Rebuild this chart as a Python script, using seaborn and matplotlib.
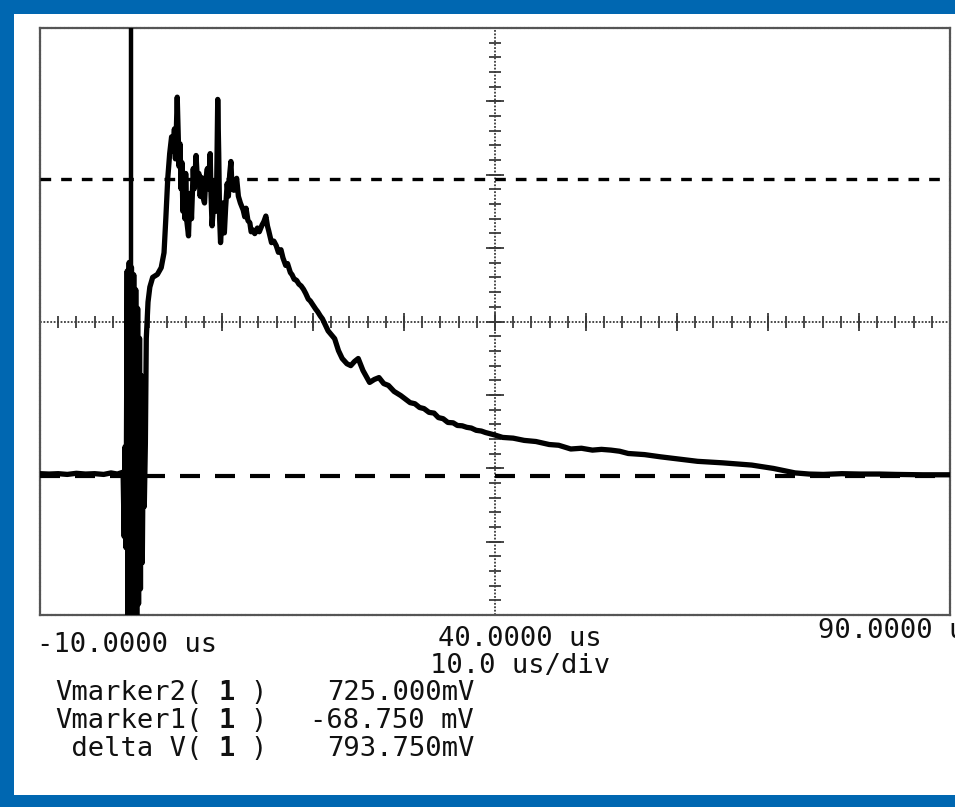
import numpy as np
import pandas as pd
import matplotlib
matplotlib.use("Agg")
import matplotlib.pyplot as plt
import seaborn as sns
from matplotlib.patches import Rectangle

# trace (time in us, voltage in mV)
time_us = [-10.0, -9.0, -8.0, -7.0, -6.0, -5.0, -4.0, -3.0, -2.2, -1.5, -0.87,
           -0.75, -0.65, -0.55, -0.42, -0.32, -0.20, -0.08, 0.05, 0.18, 0.30,
           0.42, 0.52, 0.63, 0.73, 0.83, 0.94, 1.04, 1.14, 1.24, 1.36, 1.46,
           1.58, 1.68, 1.87, 2.07, 2.38, 2.90, 3.32, 3.63, 3.83, 4.04, 4.25,
           4.46, 4.60, 4.77, 4.88, 4.97, 5.08, 5.18, 5.28, 5.39, 5.50, 5.60,
           5.70, 5.80, 5.92, 6.01, 6.15, 6.32, 6.42, 6.53, 6.65, 6.84, 6.95,
           7.15, 7.30, 7.46, 7.60, 7.75, 7.88, 8.08, 8.20, 8.39, 8.50, 8.70,
           8.80, 8.91, 9.05, 9.22, 9.38, 9.53, 9.64, 9.74, 9.84, 9.95, 10.05,
           10.15, 10.26, 10.40, 10.57, 10.70, 10.85, 10.98, 11.10, 11.30, 11.45,
           11.61, 11.80, 12.02, 12.33, 12.50, 12.64, 12.85, 13.06, 13.20, 13.37,
           13.60, 13.89, 14.10, 14.40, 14.60, 14.82, 15.00, 15.13, 15.30, 15.44,
           15.70, 15.96, 16.20, 16.48, 16.70, 17.00, 17.20, 17.51, 17.70, 17.93,
           18.20, 18.45, 18.70, 18.96, 19.20, 19.48, 19.70, 20.00, 20.30, 20.52,
           20.80, 21.04, 21.66, 22.38, 22.80, 23.21, 23.73, 24.15, 24.56, 24.97,
           25.49, 26.22, 26.74, 27.25, 27.77, 28.29, 28.91, 29.64, 30.67, 31.20,
           31.71, 32.20, 32.75, 33.30, 33.78, 34.30, 34.82, 35.40, 35.86, 36.40,
           36.89, 37.40, 37.93, 38.50, 38.96, 39.90, 40.83, 42.00, 43.21, 44.50,
           45.95, 47.00, 48.33, 49.50, 50.71, 51.70, 52.74, 53.70, 54.64, 56.43,
           58.21, 60.24, 62.26, 65.00, 68.21, 70.60, 72.98, 74.52, 76.07, 78.10,
           80.12, 82.26, 84.05, 87.02, 90.00]
volt_mv = [-62, -63, -62, -64, -61, -63, -62, -64, -60, -63, -58,
           -230, 10, -260, 480, -520, 503, -520, 490, -520, 470,
           -480, 430, -440, 380, -410, 300, -370, 200, -300, 60, -150,
           20, 300, 397, 437, 463, 471, 489, 529, 622, 728, 794,
           839, 800, 860, 780, 847, 945, 847, 760, 820, 700, 770,
           640, 720, 620, 741, 610, 574, 650, 688, 620, 754, 700,
           789, 720, 741, 680, 730, 680, 662, 720, 754, 700, 794,
           680, 601, 650, 714, 640, 939, 794, 620, 556, 600, 662,
           590, 582, 650, 714, 680, 740, 773, 700, 696, 710,
           728, 680, 662, 643, 625, 648, 615, 609, 585, 590,
           580, 595, 585, 603, 612, 627, 600, 588, 570, 556,
           560, 548, 530, 537, 515, 495, 500, 476, 470, 458,
           455, 445, 440, 431, 420, 405, 400, 389, 378, 371,
           360, 352, 320, 299, 267, 246, 232, 227, 238, 246,
           214, 182, 190, 195, 179, 174, 158, 147, 128, 125,
           115, 112, 102, 100, 88, 85, 75, 74, 67, 66,
           62, 60, 54, 52, 48, 42, 35, 33, 27, 24,
           16, 14, 4, 6, 1, 3, 1, -2, -8, -11,
           -17, -23, -29, -33, -39, -48, -60, -63, -64, -62,
           -63, -63, -64, -65, -65]

vmarker2_mv = 725.0
vmarker1_mv = -68.75
trigger_us = 0.0
x_left_us, x_center_us, x_right_us = -10.0, 40.0, 90.0
us_per_div = 10.0
y_lim_mv = (-440.0, 1130.0)

sns.set_style("white")
plt.rcParams["font.family"] = ["DejaVu Sans Mono", "DejaVu Sans"]

W, H = 955, 807
fig = plt.figure(figsize=(W / 100, H / 100), dpi=100)
fig.patch.set_facecolor("#0067B1")
fig.add_artist(Rectangle((14 / W, 12 / H), (W - 14) / W, (H - 26) / H,
                         transform=fig.transFigure, facecolor="white",
                         edgecolor="none", zorder=-1))

ax = fig.add_axes([40 / W, (H - 615) / H, 910 / W, 587 / H])
ax.set_facecolor("white")

df = pd.DataFrame({"t": time_us, "v": volt_mv})
sns.lineplot(data=df, x="t", y="v", ax=ax, color="black", lw=3.8,
             sort=False, estimator=None, zorder=5)

# trigger and voltage markers
ax.axvline(trigger_us, color="black", lw=3.2, zorder=4)
ax.axhline(vmarker2_mv, color="black", lw=2.4, ls=(0, (3.2, 3.0)), zorder=3)
ax.axhline(vmarker1_mv, color="black", lw=3.0, ls=(0, (4.8, 3.6)), zorder=3)

# dotted crosshair with division ticks
yc = sum(y_lim_mv) / 2
v_div = (y_lim_mv[1] - y_lim_mv[0]) / 8
grid_kw = dict(color="#3a3a3a", lw=1.3, ls=(0, (1, 0.9)), zorder=2)
ax.axhline(yc, **grid_kw)
ax.axvline(x_center_us, **grid_kw)

minor_x = np.arange(x_left_us, x_right_us + 0.01, us_per_div / 5)
major_x = np.arange(x_left_us, x_right_us + 0.01, us_per_div)
ax.plot(minor_x, np.full(len(minor_x), yc), ls="none", marker="|", ms=8,
        mew=1.3, color="#3a3a3a", zorder=2)
ax.plot(major_x, np.full(len(major_x), yc), ls="none", marker="|", ms=13,
        mew=1.3, color="#3a3a3a", zorder=2)
minor_y = yc + np.arange(-20, 21) * v_div / 5
major_y = yc + np.arange(-4, 5) * v_div
ax.plot(np.full(len(minor_y), x_center_us), minor_y, ls="none", marker="_",
        ms=8, mew=1.3, color="#3a3a3a", zorder=2)
ax.plot(np.full(len(major_y), x_center_us), major_y, ls="none", marker="_",
        ms=13, mew=1.3, color="#3a3a3a", zorder=2)

ax.set_xlim(x_left_us, x_right_us)
ax.set_ylim(*y_lim_mv)
ax.set_xticks([])
ax.set_yticks([])
ax.set_xlabel("")
ax.set_ylabel("")
for s in ax.spines.values():
    s.set_visible(True)
    s.set_linestyle((0, (1, 0.9)))
    s.set_linewidth(1.6)
    s.set_color("#555555")


def px(x, y):
    return x / W, 1 - y / H


fs = 19.5
cw = 0.602 * fs * 100 / 72
txt_kw = dict(fontsize=fs, color="#111111", va="baseline")
fig.text(*px(37, 652), f"{x_left_us:.4f} us", ha="left", **txt_kw)
fig.text(*px(520, 646), f"{x_center_us:.4f} us", ha="center", **txt_kw)
fig.text(*px(818, 638), f"{x_right_us:.4f} us", ha="left", **txt_kw)
fig.text(*px(520, 673), f"{us_per_div:.1f} us/div", ha="center", **txt_kw)

readout_names = ["Vmarker2(", "Vmarker1(", " delta V("]
readout_values = [f"{vmarker2_mv:.3f}mV", f"{vmarker1_mv:.3f} mV",
                  f"{vmarker2_mv - vmarker1_mv:.3f}mV"]
for i, (name, val) in enumerate(zip(readout_names, readout_values)):
    yb = 700 + i * 28
    fig.text(*px(55, yb), name, ha="left", **txt_kw)
    fig.text(*px(55 + 10 * cw, yb), "1", ha="left", fontweight="bold", **txt_kw)
    fig.text(*px(55 + 12 * cw, yb), ")", ha="left", **txt_kw)
    fig.text(*px(474, yb), val, ha="right", **txt_kw)

fig.savefig("out.png", dpi=100, facecolor=fig.get_facecolor())
